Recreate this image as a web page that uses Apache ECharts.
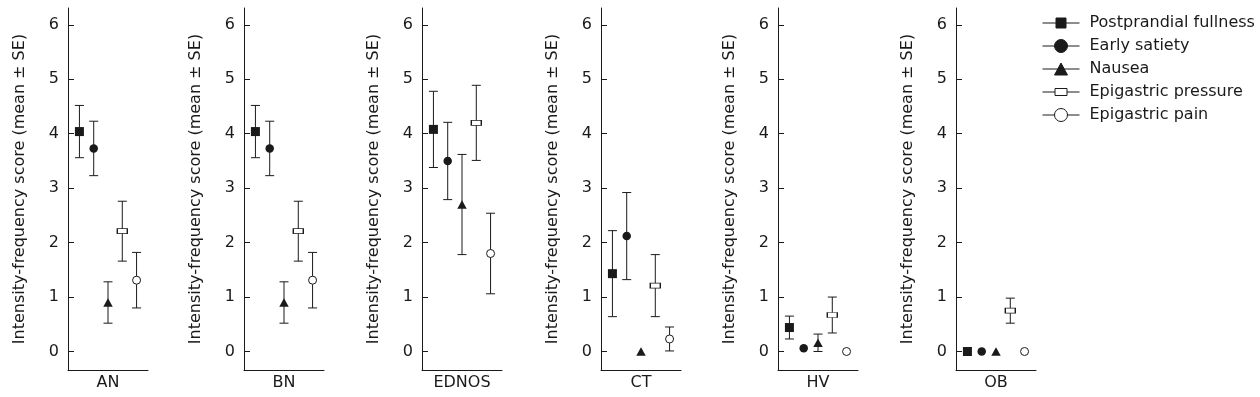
<!DOCTYPE html>
<html>
<head>
<meta charset="utf-8">
<script src="https://cdn.jsdelivr.net/npm/echarts@6/dist/echarts.min.js"></script>
<style>
html, body { margin: 0; padding: 0; background: #fff; }
#chart { width: 1260px; height: 397px; }
</style>
</head>
<body>
<div id="chart"></div>
<script>
// groups (one panel each) and symptoms
var groups = ['AN', 'BN', 'EDNOS', 'CT', 'HV', 'OB'];
var symptoms = ['Postprandial fullness', 'Early satiety', 'Nausea', 'Epigastric pressure', 'Epigastric pain'];

// mean and SE per group
var postprandialMean = [4.04, 4.04, 4.08, 1.43, 0.44, 0];
var postprandialSE   = [0.48, 0.48, 0.70, 0.79, 0.21, 0];
var satietyMean      = [3.73, 3.73, 3.50, 2.12, 0.06, 0];
var satietySE        = [0.50, 0.50, 0.71, 0.80, 0, 0];
var nauseaMean       = [0.90, 0.90, 2.70, 0, 0.16, 0];
var nauseaSE         = [0.38, 0.38, 0.92, 0, 0.16, 0];
var pressureMean     = [2.21, 2.21, 4.20, 1.21, 0.67, 0.75];
var pressureSE       = [0.55, 0.55, 0.69, 0.57, 0.33, 0.23];
var painMean         = [1.31, 1.31, 1.80, 0.23, 0, 0];
var painSE           = [0.51, 0.51, 0.74, 0.22, 0, 0];

var yTicks = [0, 1, 2, 3, 4, 5, 6];

var ink = '#1a1a1a';
var font = 'DejaVu Sans';
var panelLeft = [68, 244, 422, 601, 778, 956];

var means = [postprandialMean, satietyMean, nauseaMean, pressureMean, painMean];
var errors = [postprandialSE, satietySE, nauseaSE, pressureSE, painSE];

var markers = [
	{ symbol: 'rect', size: 9, fill: ink },
	{ symbol: 'circle', size: 8.5, fill: ink },
	{ symbol: 'triangle', size: [9.5, 8.5], fill: ink },
	{ symbol: 'rect', size: [10, 5], fill: '#fff' },
	{ symbol: 'circle', size: 8, fill: '#fff' }
];

// legend icons: short line with the marker in the middle (37 x 14 box)
var legendIcons = [
	'path://M0,7H37M13.5,2H23.5V12H13.5Z',
	'path://M0,7H37M12,7A6.5,6.5 0 1 1 25,7A6.5,6.5 0 1 1 12,7Z',
	'path://M0,7H37M12,13L18.5,1L25,13Z',
	'path://M0,7H12.5M24.5,7H37M12.5,3.5H24.5V10.5H12.5Z',
	'path://M0,7H12M25,7H37M12,7A6.5,6.5 0 1 1 25,7A6.5,6.5 0 1 1 12,7Z'
];

function renderErrorBar(params, api) {
	var x = api.value(0), lo = api.value(1), hi = api.value(2);
	if (hi - lo <= 0) return null;
	var top = api.coord([x, hi]);
	var bottom = api.coord([x, lo]);
	var half = 4.5;
	var style = { stroke: ink, lineWidth: 1 };
	return {
		type: 'group',
		children: [
			{ type: 'line', shape: { x1: top[0], y1: top[1], x2: bottom[0], y2: bottom[1] }, style: style },
			{ type: 'line', shape: { x1: top[0] - half, y1: top[1], x2: top[0] + half, y2: top[1] }, style: style },
			{ type: 'line', shape: { x1: bottom[0] - half, y1: bottom[1], x2: bottom[0] + half, y2: bottom[1] }, style: style }
		]
	};
}

var grids = [], xAxes = [], yAxes = [], series = [];

groups.forEach(function(g, i) {
	grids.push({ left: panelLeft[i], top: 8, width: 80, height: 362 });
	xAxes.push({
		gridIndex: i,
		type: 'value',
		min: 0.2,
		max: 5.8,
		axisLine: { show: true, onZero: false, lineStyle: { color: ink, width: 1 } },
		axisTick: { show: false },
		axisLabel: { show: false },
		splitLine: { show: false },
		name: g,
		nameLocation: 'middle',
		nameGap: 5,
		nameTextStyle: { fontFamily: font, fontSize: 16, color: ink }
	});
	yAxes.push({
		gridIndex: i,
		type: 'value',
		min: -0.34,
		max: 6.31,
		axisLine: { show: true, onZero: false, lineStyle: { color: ink, width: 1 } },
		axisTick: { show: true, inside: true, length: 6, customValues: yTicks, lineStyle: { color: ink } },
		axisLabel: { show: true, customValues: yTicks, margin: 9, fontFamily: font, fontSize: 16, color: ink },
		splitLine: { show: false },
		name: 'Intensity-frequency score (mean \u00b1 SE)',
		nameLocation: 'middle',
		nameGap: 40,
		nameTextStyle: { fontFamily: font, fontSize: 16, color: ink }
	});

	var bars = [];
	symptoms.forEach(function(s, j) {
		var m = means[j][i], se = errors[j][i];
		bars.push([j + 1, m - se, m + se]);
		series.push({
			name: s,
			type: 'scatter',
			xAxisIndex: i,
			yAxisIndex: i,
			data: [[j + 1, m]],
			symbol: markers[j].symbol,
			symbolSize: markers[j].size,
			itemStyle: {
				color: markers[j].fill,
				borderColor: ink,
				borderWidth: markers[j].fill === '#fff' ? 1 : 0,
				opacity: 1
			},
			z: 3,
			silent: true
		});
	});
	series.push({
		type: 'custom',
		xAxisIndex: i,
		yAxisIndex: i,
		data: bars,
		encode: { x: 0, y: [1, 2] },
		renderItem: renderErrorBar,
		z: 2,
		silent: true
	});
});

var chart = echarts.init(document.getElementById('chart'));
chart.setOption({
	animation: false,
	textStyle: { fontFamily: font },
	legend: {
		orient: 'vertical',
		left: 1042,
		top: 15,
		padding: 0,
		itemWidth: 37,
		itemHeight: 14,
		itemGap: 7,
		selectedMode: false,
		textStyle: { fontFamily: font, fontSize: 16, color: ink, padding: [0, 0, 0, 5] },
		data: symptoms.map(function(s, j) {
			return {
				name: s,
				icon: legendIcons[j],
				itemStyle: { color: markers[j].fill, borderColor: ink, borderWidth: 1 }
			};
		})
	},
	grid: grids,
	xAxis: xAxes,
	yAxis: yAxes,
	series: series
});
</script>
</body>
</html>
